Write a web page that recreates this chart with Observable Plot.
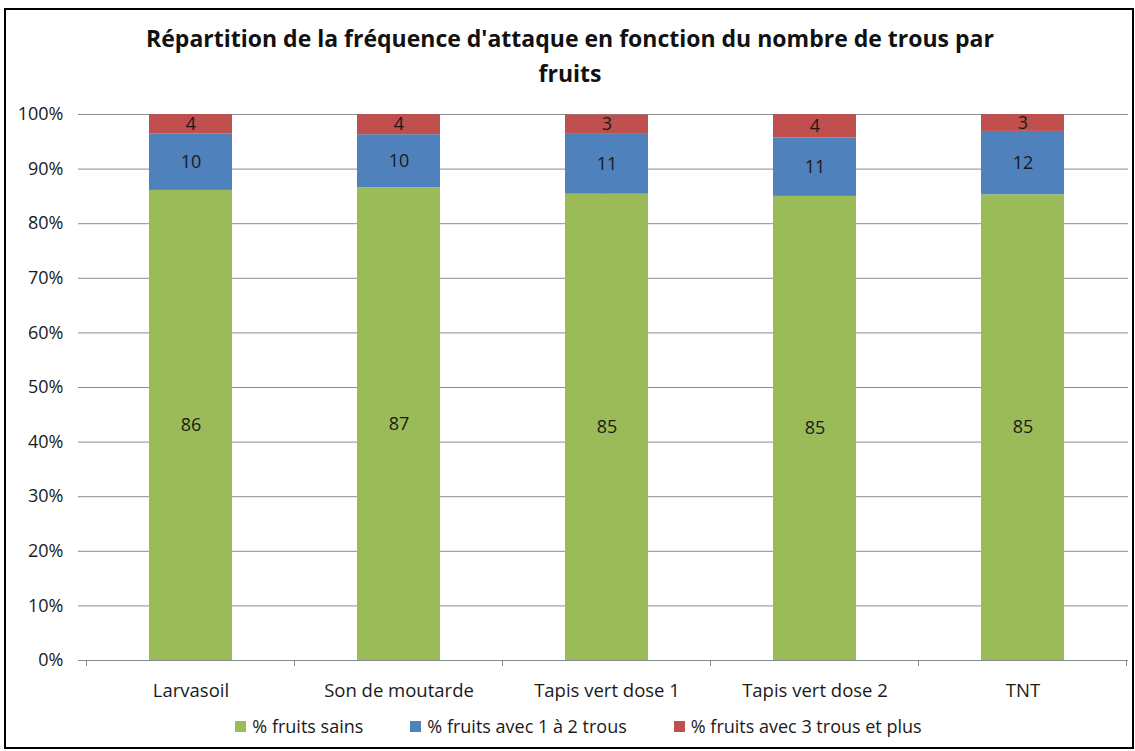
<!DOCTYPE html>
<html>
<head>
<meta charset="utf-8">
<script src="https://cdn.jsdelivr.net/npm/d3@7"></script>
<script src="https://cdn.jsdelivr.net/npm/@observablehq/plot@0.6"></script>
<style>
  html, body { margin: 0; padding: 0; background: #fff; }
  body { width: 1135px; height: 751px; position: relative; overflow: hidden; font-family: "Open Sans", Lato, sans-serif; color: #1a1a1a; }
  #frame { position: absolute; left: 4px; top: 8px; width: 1126px; height: 737px; border: 2px solid #000; pointer-events: none; }
  #title { position: absolute; left: 0; top: 21px; width: 1140px; text-align: center; font-weight: bold; font-size: 23px; line-height: 35px; color: #111; }
  #chart { position: absolute; left: 0; top: 100px; }
  #legend { position: absolute; left: 0; top: 715px; width: 1157px; display: flex; justify-content: center; gap: 47px; font-size: 18px; line-height: 22px; }
  #legend .item { display: flex; align-items: center; gap: 6px; }
  #legend .sw { width: 11px; height: 11px; display: inline-block; }
</style>
</head>
<body>
<div id="title">Répartition de la fréquence d'attaque en fonction du nombre de trous par<br>fruits</div>
<div id="chart"></div>
<div id="legend"></div>
<div id="frame"></div>
<script>
const categories = ["Larvasoil", "Son de moutarde", "Tapis vert dose 1", "Tapis vert dose 2", "TNT"];
const seriesNames = ["% fruits sains", "% fruits avec 1 à 2 trous", "% fruits avec 3 trous et plus"];
const seriesColors = ["#9BBB59", "#4F81BD", "#C0504D"];
const sains = [86.1, 86.6, 85.4, 85.0, 85.3];
const trous1a2 = [10.3, 9.7, 11.1, 10.7, 11.6];
const trous3plus = [3.6, 3.7, 3.4, 4.3, 3.1];
const yTicks = [0, 10, 20, 30, 40, 50, 60, 70, 80, 90, 100];

const seriesValues = [sains, trous1a2, trous3plus];
const data = [];
seriesNames.forEach((s, i) => {
  categories.forEach((c, j) => {
    data.push({category: c, series: s, value: seriesValues[i][j]});
  });
});

// ticks at band boundaries (Excel-style category axis ticks)
function boundaryTicks(index, scales, values, dimensions) {
  const x = scales.x, y = scales.y;
  const step = typeof x.step === "function" ? x.step() : scales.scales.x.step;
  const bw = typeof x.bandwidth === "function" ? x.bandwidth() : scales.scales.x.bandwidth;
  const g = d3.create("svg:g");
  const y0 = y(0);
  const xs = categories.map(c => x(c) + bw / 2 - step / 2);
  xs.push(x(categories[categories.length - 1]) + bw / 2 + step / 2);
  xs.forEach(px => {
    g.append("line").attr("x1", px).attr("x2", px).attr("y1", y0).attr("y2", y0 + 6)
      .attr("stroke", "#888").attr("stroke-width", 1);
  });
  return g.node();
}

const plot = Plot.plot({
  width: 1135,
  height: 605,
  marginLeft: 86,
  marginRight: 7,
  marginTop: 14,
  marginBottom: 45,
  style: {fontFamily: "'Open Sans', Lato, sans-serif", fontSize: "18px", color: "#1a1a1a", background: "transparent"},
  x: {domain: categories, paddingInner: 0.6, paddingOuter: 0.3, label: null},
  y: {domain: [0, 100], label: null},
  color: {domain: seriesNames, range: seriesColors},
  marks: [
    Plot.gridY(yTicks, {stroke: "#8c8c8c", strokeOpacity: 1, strokeWidth: 1}),
    Plot.axisY(yTicks, {tickFormat: d => d + "%", tickSize: 8, tickPadding: 15, stroke: "#8c8c8c", fontSize: 18, label: null}),
    Plot.ruleY([0], {stroke: "#8c8c8c"}),
    Plot.ruleX([0], {x: null, stroke: "#8c8c8c", frameAnchor: "left"}),
    Plot.axisX({tickSize: 0, tickPadding: 23, fontSize: 18.5, label: null}),
    boundaryTicks,
    Plot.barY(data, Plot.stackY({x: "category", y: "value", fill: "series", order: null})),
    Plot.text(data, Plot.stackY({x: "category", y: "value", z: "series", order: null, text: d => Math.round(d.value), fontSize: 18, fill: "#1a1a1a"}))
  ]
});
document.getElementById("chart").appendChild(plot);

const legend = document.getElementById("legend");
seriesNames.forEach((s, i) => {
  const item = document.createElement("div");
  item.className = "item";
  const sw = document.createElement("span");
  sw.className = "sw";
  sw.style.background = seriesColors[i];
  const t = document.createElement("span");
  t.textContent = s;
  item.appendChild(sw);
  item.appendChild(t);
  legend.appendChild(item);
});
</script>
</body>
</html>
